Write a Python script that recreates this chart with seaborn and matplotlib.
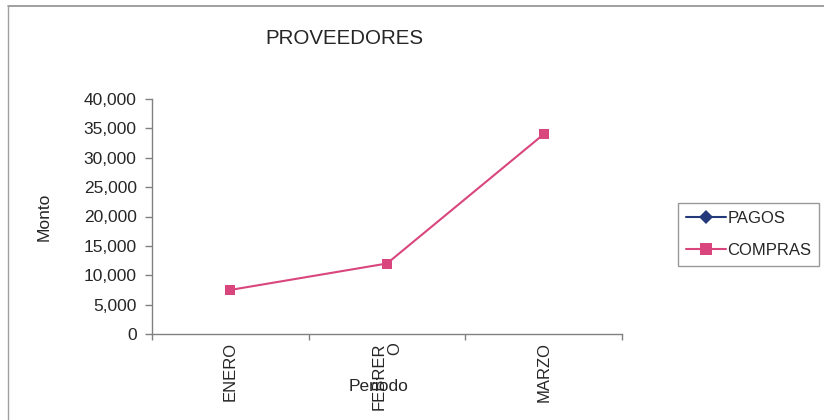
import numpy as np
import pandas as pd
import matplotlib
matplotlib.use("Agg")
import matplotlib.pyplot as plt
from matplotlib.lines import Line2D
from matplotlib.ticker import FuncFormatter, FixedLocator
import seaborn as sns

# ---- data ----
periodos = ["ENERO", "FEBRERO", "MARZO"]
tick_labels = ["ENERO", "FEBRER\nO", "MARZO"]
pagos = [np.nan, np.nan, np.nan]
compras = [7500, 12000, 34000]
series_names = ["PAGOS", "COMPRAS"]

sns.set_style("white")
plt.rcParams["font.family"] = ["Liberation Sans", "DejaVu Sans"]

df = pd.DataFrame({
    "Periodo": periodos * 2,
    "pos": list(range(len(periodos))) * 2,
    "Monto": pagos + compras,
    "Serie": ["PAGOS"] * 3 + ["COMPRAS"] * 3,
})

colors = {"PAGOS": "#23397A", "COMPRAS": "#D9467D"}
markers = {"PAGOS": "D", "COMPRAS": "s"}

fig = plt.figure(figsize=(8.24, 4.2), dpi=100)
ax = fig.add_axes([152/824, 1-334/420, 470/824, 235/420])

for name in series_names:
    sub = df[df["Serie"] == name].dropna()
    if len(sub):
        sns.lineplot(data=sub, x="pos", y="Monto", ax=ax, color=colors[name],
                     marker=markers[name], markersize=7, markeredgewidth=0,
                     linewidth=1.5, legend=False)

ax.set_xlim(-0.5, len(periodos) - 0.5)
ax.set_ylim(0, 40000)
ax.set_yticks(np.arange(0, 40001, 5000))
ax.yaxis.set_major_formatter(FuncFormatter(lambda v, p: f"{int(v):,}"))

ax.set_xticks(range(len(periodos)))
ax.set_xticklabels(tick_labels, rotation=90, ha="center", va="top",
                   multialignment="right", fontsize=12, linespacing=1.0)
ax.tick_params(axis="x", which="major", length=0, pad=6)
ax.xaxis.set_minor_locator(FixedLocator([-0.5, 0.5, 1.5, 2.5]))
ax.tick_params(axis="x", which="minor", length=4, color="#808080", width=1, direction="out", bottom=True)
ax.tick_params(axis="y", length=5, color="#808080", width=1, direction="out", left=True, labelsize=12.5, pad=6)

for s in ["top", "right"]:
    ax.spines[s].set_visible(False)
for s in ["left", "bottom"]:
    ax.spines[s].set_color("#808080")
    ax.spines[s].set_linewidth(1)

ax.set_xlabel("Periodo", fontsize=12.5)
ax.xaxis.set_label_coords(0.483, -0.19)
ax.set_ylabel("Monto", fontsize=12.5)
ax.yaxis.set_label_coords(-0.213, 0.5)

fig.text(344/824, 1-39/420, "PROVEEDORES", ha="center", va="center", fontsize=14.8)

handles = [Line2D([0], [0], color=colors[n], marker=markers[n], markersize=8 if n == "COMPRAS" else 7,
                  markeredgewidth=0, linewidth=1.5) for n in series_names]
leg = fig.legend(handles, series_names, loc="upper left",
                 bbox_to_anchor=(678/824, 1-203/420), borderaxespad=0, fontsize=12,
                 frameon=True, fancybox=False, edgecolor="#808080",
                 handlelength=2.4, handletextpad=0.1, borderpad=0.45, labelspacing=1.05)
leg.get_frame().set_linewidth(1)

# chart-area border (top and left visible)
fig.add_artist(Line2D([8/824, 1], [1-6/420, 1-6/420], color="#909090", linewidth=1.2, transform=fig.transFigure))
fig.add_artist(Line2D([8/824, 8/824], [0, 1-6/420], color="#A0A0A0", linewidth=1.0, transform=fig.transFigure))

fig.savefig("out.png", dpi=100)
